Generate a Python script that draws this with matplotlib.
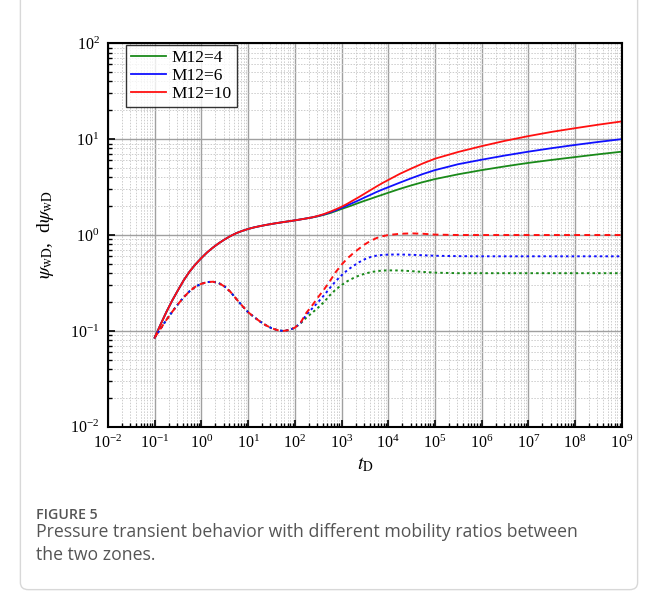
import numpy as np
import matplotlib
matplotlib.use("Agg")
import matplotlib.pyplot as plt
from matplotlib.patches import FancyBboxPatch
from matplotlib.ticker import LogLocator, NullFormatter

plt.rcParams['font.family'] = ['Liberation Serif', 'DejaVu Serif']
plt.rcParams['mathtext.fontset'] = 'stix'

# log10(tD) sample points
logt = [-1, -0.875, -0.75, -0.625, -0.5, -0.375, -0.25, -0.125, 0, 0.125, 0.25, 0.375, 0.5, 0.625, 0.75, 0.875,
        1.0, 1.125, 1.25, 1.375, 1.5, 1.625, 1.75, 1.875, 2.0, 2.125, 2.25, 2.375, 2.5, 2.625, 2.75, 2.875,
        3.0, 3.125, 3.25, 3.375, 3.5, 3.625, 3.75, 3.875, 4.0, 4.25, 4.5, 4.75, 5.0,
        5.5, 6.0, 6.5, 7.0, 7.5, 8.0, 8.5, 9.0]

# early part is the same for all three cases
p_early = [0.085, 0.116, 0.157, 0.207, 0.266, 0.339, 0.417, 0.495, 0.575, 0.66, 0.741, 0.822, 0.90, 0.977,
           1.047, 1.104, 1.156, 1.20, 1.237, 1.272, 1.304, 1.334, 1.363, 1.392, 1.422, 1.455, 1.49]
d_early = [0.085, 0.105, 0.13, 0.158, 0.19, 0.225, 0.26, 0.29, 0.31, 0.323, 0.326, 0.315, 0.29, 0.255,
           0.215, 0.183, 0.157, 0.14, 0.126, 0.115, 0.107, 0.102, 0.100, 0.102, 0.108]

# pressure (solid), from logt = 2.375 on
p_m4 = p_early + [1.525, 1.57, 1.625, 1.69, 1.775, 1.87, 1.96, 2.06, 2.17, 2.28, 2.39, 2.51, 2.63, 2.76,
                  3.03, 3.30, 3.57, 3.83, 4.30, 4.75, 5.20, 5.65, 6.07, 6.50, 6.95, 7.40]
p_m6 = p_early + [1.528, 1.578, 1.64, 1.72, 1.81, 1.92, 2.04, 2.17, 2.31, 2.47, 2.63, 2.81, 2.98, 3.15,
                  3.52, 3.92, 4.34, 4.75, 5.48, 6.10, 6.75, 7.40, 8.05, 8.70, 9.35, 10.0]
p_m10 = p_early + [1.53, 1.585, 1.655, 1.745, 1.85, 1.97, 2.12, 2.30, 2.49, 2.71, 2.95, 3.21, 3.48, 3.75,
                   4.35, 4.95, 5.60, 6.25, 7.35, 8.45, 9.60, 10.75, 11.9, 13.0, 14.15, 15.3]

# derivative (dotted / dashed), from logt = 2.125 on
d_m4 = d_early + [0.12, 0.138, 0.155, 0.175, 0.2, 0.235, 0.27, 0.30, 0.33, 0.355, 0.378, 0.395, 0.41, 0.42,
                  0.426, 0.428, 0.427, 0.42, 0.412, 0.405, 0.40, 0.40, 0.40, 0.40, 0.40, 0.40, 0.40, 0.40]
d_m6 = d_early + [0.121, 0.148, 0.172, 0.20, 0.235, 0.28, 0.33, 0.38, 0.43, 0.475, 0.52, 0.56, 0.59, 0.61,
                  0.62, 0.625, 0.627, 0.622, 0.615, 0.608, 0.602, 0.60, 0.60, 0.60, 0.60, 0.60, 0.60, 0.60]
d_m10 = d_early + [0.122, 0.155, 0.185, 0.225, 0.27, 0.33, 0.41, 0.49, 0.57, 0.645, 0.72, 0.80, 0.87, 0.93,
                   0.97, 1.0, 1.03, 1.04, 1.03, 1.01, 1.0, 1.0, 1.0, 1.0, 1.0, 1.0, 1.0, 1.0]

labels = ["M12=4", "M12=6", "M12=10"]
colors = ["#1a8a1a", "#1010ff", "#ff1010"]

t = 10.0 ** np.array(logt)

fig = plt.figure(figsize=(6.58, 5.92), dpi=100)
# outer figure frame
frame = FancyBboxPatch((0.031, 0.004), 0.938, 1.05, boxstyle="round,pad=0,rounding_size=0.012",
                       transform=fig.transFigure, facecolor="none", edgecolor="#d8d8d8", lw=1.0)
fig.patches.append(frame)

ax = fig.add_axes([0.164, 0.279, 0.781, 0.648])

for p, c, lab in zip([p_m4, p_m6, p_m10], colors, labels):
    ax.plot(t, p, color=c, lw=1.3, label=lab)
ax.plot(t, d_m4, color=colors[0], lw=1.4, linestyle=(0, (1.3, 1.6)))
ax.plot(t, d_m6, color=colors[1], lw=1.4, linestyle=(0, (1.3, 1.6)))
ax.plot(t, d_m10, color=colors[2], lw=1.4, linestyle=(0, (3, 2.2)))

ax.set_xscale("log")
ax.set_yscale("log")
ax.set_xlim(1e-2, 1e9)
ax.set_ylim(1e-2, 1e2)

ax.xaxis.set_major_locator(LogLocator(base=10, numticks=20))
ax.xaxis.set_minor_locator(LogLocator(base=10, subs=np.arange(2, 10), numticks=20))
ax.yaxis.set_minor_locator(LogLocator(base=10, subs=np.arange(2, 10), numticks=20))
ax.xaxis.set_minor_formatter(NullFormatter())
ax.yaxis.set_minor_formatter(NullFormatter())

ax.grid(which="major", color="#a0a0a0", lw=1.0, linestyle="-")
ax.grid(which="minor", color="#cccccc", lw=0.7, linestyle=(0, (1.5, 1.5)))
ax.set_axisbelow(True)

ax.tick_params(which="major", direction="in", length=5, width=1.2, labelsize=11.5, pad=6)
ax.tick_params(which="minor", direction="in", length=3, width=1.0)
for s in ax.spines.values():
    s.set_linewidth(1.5)

ax.set_xlabel(r"$t_{\rm D}$", fontsize=14, labelpad=2)
ax.set_ylabel(r"$\psi_{\rm wD}$,  d$\psi_{\rm wD}$", fontsize=14, labelpad=10)

leg = ax.legend(loc="upper left", bbox_to_anchor=(0.035, 0.996), borderaxespad=0, fontsize=12.5,
                frameon=True, fancybox=False, edgecolor="black", handlelength=2.0, borderpad=0.3,
                labelspacing=0.1, handletextpad=0.35)
leg.get_frame().set_linewidth(1.0)

fig.text(0.055, 0.130, "FIGURE 5", fontsize=10.2, color="#555555", family="Open Sans",
         weight="semibold", va="center")
fig.text(0.055, 0.082, "Pressure transient behavior with different mobility ratios between\nthe two zones.",
         fontsize=12.7, color="#555555", family="Open Sans", linespacing=1.4, va="center")

fig.savefig("out.png", dpi=100)
